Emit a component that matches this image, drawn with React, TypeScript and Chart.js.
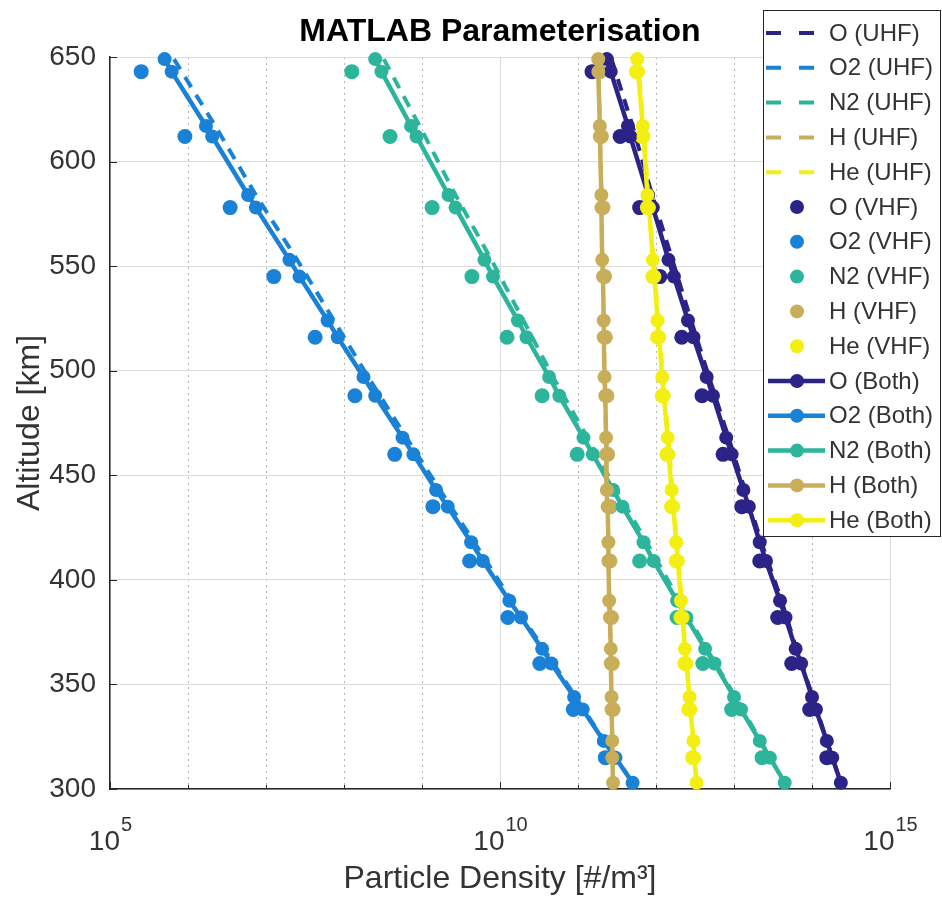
import React, { useEffect, useRef } from 'react';
import { Chart, registerables } from 'chart.js';

Chart.register(...registerables);

// ---------- data (densities stored as log10 of #/m^3) ----------
const UHF_ALT = [649, 617, 584, 553, 524, 497, 468, 443, 418, 390, 367, 344, 323, 303];
const VHF_ALT = [643, 612, 578, 545, 516, 488, 460, 435, 409, 382, 360, 338, 315];
const BOTH_ALT = [649, 643, 617, 612, 584, 578, 553, 545, 524, 516, 497, 488, 468, 460, 443, 435, 418, 409, 390, 382, 367, 360, 344, 338, 323, 315, 303];

const O_UHF = [11.43, 11.70, 11.95, 12.21, 12.45, 12.68, 12.93, 13.14, 13.35, 13.61, 13.80, 14.01, 14.19, 14.37];
const O2_UHF = [5.82, 6.35, 6.87, 7.40, 7.87, 8.31, 8.80, 9.23, 9.67, 10.15, 10.56, 10.97, 11.34, 11.70];
const N2_UHF = [8.51, 8.97, 9.43, 9.89, 10.30, 10.68, 11.12, 11.49, 11.88, 12.30, 12.65, 13.02, 13.34, 13.65];
const H_UHF = [11.26, 11.28, 11.30, 11.31, 11.33, 11.34, 11.36, 11.37, 11.39, 11.40, 11.42, 11.43, 11.44, 11.45];
const HE_UHF = [11.77, 11.84, 11.90, 11.97, 12.03, 12.09, 12.16, 12.21, 12.27, 12.33, 12.38, 12.43, 12.48, 12.52];

const O_VHF = [11.18, 11.54, 11.79, 12.05, 12.33, 12.59, 12.86, 13.10, 13.33, 13.56, 13.74, 13.97, 14.19];
const O2_VHF = [5.40, 5.96, 6.54, 7.10, 7.63, 8.14, 8.65, 9.14, 9.61, 10.10, 10.51, 10.94, 11.35];
const N2_VHF = [8.10, 8.59, 9.13, 9.64, 10.09, 10.54, 10.99, 11.41, 11.79, 12.27, 12.60, 12.97, 13.36];
const H_VHF = [11.28, 11.30, 11.32, 11.34, 11.35, 11.37, 11.38, 11.40, 11.41, 11.43, 11.44, 11.45, 11.46];
const HE_VHF = [11.75, 11.82, 11.89, 11.96, 12.02, 12.08, 12.14, 12.20, 12.26, 12.32, 12.37, 12.42, 12.47];

const O_BOTH = [11.37, 11.42, 11.64, 11.67, 11.90, 11.96, 12.16, 12.23, 12.41, 12.48, 12.65, 12.73, 12.90, 12.97, 13.12, 13.19, 13.33, 13.41, 13.59, 13.66, 13.79, 13.86, 14.00, 14.05, 14.19, 14.26, 14.37];
const O2_BOTH = [5.70, 5.79, 6.23, 6.31, 6.77, 6.87, 7.30, 7.43, 7.79, 7.92, 8.25, 8.40, 8.75, 8.89, 9.18, 9.33, 9.63, 9.78, 10.12, 10.27, 10.54, 10.66, 10.95, 11.06, 11.33, 11.48, 11.70];
const N2_BOTH = [8.40, 8.48, 8.86, 8.93, 9.34, 9.43, 9.80, 9.91, 10.23, 10.34, 10.63, 10.76, 11.07, 11.19, 11.45, 11.57, 11.84, 11.97, 12.27, 12.39, 12.63, 12.75, 13.00, 13.09, 13.33, 13.46, 13.65];
const H_BOTH = [11.26, 11.26, 11.28, 11.28, 11.30, 11.30, 11.31, 11.32, 11.33, 11.33, 11.34, 11.35, 11.36, 11.36, 11.37, 11.38, 11.39, 11.39, 11.40, 11.41, 11.42, 11.42, 11.43, 11.43, 11.44, 11.44, 11.45];
const HE_BOTH = [11.76, 11.77, 11.83, 11.84, 11.89, 11.91, 11.96, 11.98, 12.02, 12.04, 12.08, 12.10, 12.15, 12.16, 12.20, 12.22, 12.26, 12.28, 12.32, 12.34, 12.37, 12.39, 12.43, 12.44, 12.48, 12.49, 12.52];

const SPECIES = ['O', 'O2', 'N2', 'H', 'He'];
const COLORS = ['#2b2388', '#1a82d6', '#2db59c', '#c9ae5a', '#f4ef12'];

const X_TICK_EXP = [5, 6, 7, 8, 9, 10, 11, 12, 13, 14, 15];
const X_LABEL_BASE = '10';
const X_LABEL_EXP = [5, 10, 15];
const Y_TICKS = [300, 350, 400, 450, 500, 550, 600, 650];

const TITLE = 'MATLAB Parameterisation';
const X_TITLE = 'Particle Density [#/m\u00B3]';
const Y_TITLE = 'Altitude [km]';

const FONT = '"Liberation Sans", Arial, Helvetica, sans-serif';
const TEXT = '#262626';
const LABEL = '#333333';

const toPoints = (alts: number[], logs: number[]) =>
  alts.map((a, i) => ({ x: Math.pow(10, logs[i]), y: a }));

const inwardTicks = {
  id: 'inwardTicks',
  beforeDatasetsDraw(chart: any) {
    const { ctx, chartArea: a, scales } = chart;
    const x = scales.x;
    const y = scales.y;
    ctx.save();
    ctx.strokeStyle = TEXT;
    ctx.lineWidth = 1;
    ctx.beginPath();
    for (const t of Y_TICKS) {
      const py = Math.round(y.getPixelForValue(t)) + 0.5;
      ctx.moveTo(a.left, py);
      ctx.lineTo(a.left + 7, py);
    }
    for (const e of X_TICK_EXP) {
      const px = Math.round(x.getPixelForValue(Math.pow(10, e))) + 0.5;
      ctx.moveTo(px, a.bottom);
      ctx.lineTo(px, a.bottom - (e % 5 === 0 ? 7 : 4));
    }
    ctx.stroke();
    ctx.restore();
  },
};

// power-of-ten tick labels with a raised exponent, placed by the x scale
const powerLabels = {
  id: 'powerLabels',
  afterDraw(chart: any) {
    const { ctx, scales } = chart;
    const x = scales.x;
    ctx.save();
    ctx.fillStyle = LABEL;
    ctx.textBaseline = 'alphabetic';
    ctx.textAlign = 'left';
    for (const e of X_LABEL_EXP) {
      const px = x.getPixelForValue(Math.pow(10, e));
      ctx.font = `28px ${FONT}`;
      const wb = ctx.measureText(X_LABEL_BASE).width;
      ctx.font = `20px ${FONT}`;
      const we = ctx.measureText(String(e)).width;
      const x0 = px - (wb + we) / 2;
      ctx.font = `28px ${FONT}`;
      ctx.fillText(X_LABEL_BASE, x0, 850);
      ctx.font = `20px ${FONT}`;
      ctx.fillText(String(e), x0 + wb + 1, 831);
    }
    ctx.restore();
  },
};

const matlabLegend = {
  id: 'matlabLegend',
  afterDraw(chart: any) {
    const { ctx } = chart;
    const left = 763, top = 10, right = 941, bottom = 537;
    const rowY0 = 33, rowH = 34.8;
    ctx.save();
    ctx.fillStyle = '#ffffff';
    ctx.fillRect(left, top, right - left, bottom - top);
    ctx.strokeStyle = TEXT;
    ctx.lineWidth = 1;
    ctx.strokeRect(left + 0.5, top + 0.5, right - left - 1, bottom - top - 1);
    chart.data.datasets.forEach((ds: any, i: number) => {
      const cy = rowY0 + i * rowH;
      const color = ds.borderColor;
      const group = Math.floor(i / 5);
      if (group === 0) {
        ctx.strokeStyle = color;
        ctx.lineWidth = 4;
        ctx.setLineDash([15, 18]);
        ctx.beginPath();
        ctx.moveTo(766, cy);
        ctx.lineTo(814, cy);
        ctx.stroke();
        ctx.setLineDash([]);
      } else if (group === 1) {
        ctx.fillStyle = color;
        ctx.beginPath();
        ctx.arc(797, cy, 7, 0, Math.PI * 2);
        ctx.fill();
      } else {
        ctx.strokeStyle = color;
        ctx.lineWidth = 4.5;
        ctx.beginPath();
        ctx.moveTo(768, cy);
        ctx.lineTo(825, cy);
        ctx.stroke();
        ctx.fillStyle = color;
        ctx.beginPath();
        ctx.arc(797, cy, 7, 0, Math.PI * 2);
        ctx.fill();
      }
      ctx.fillStyle = LABEL;
      ctx.font = `24px ${FONT}`;
      ctx.textBaseline = 'middle';
      ctx.textAlign = 'left';
      ctx.fillText(ds.label, 829, cy + 1);
    });
    ctx.restore();
  },
};

export default function App() {
  const ref = useRef<HTMLCanvasElement>(null);

  useEffect(() => {
    document.body.style.margin = '0';
    const canvas = ref.current;
    if (!canvas) return;

    const uhf = [O_UHF, O2_UHF, N2_UHF, H_UHF, HE_UHF];
    const vhf = [O_VHF, O2_VHF, N2_VHF, H_VHF, HE_VHF];
    const both = [O_BOTH, O2_BOTH, N2_BOTH, H_BOTH, HE_BOTH];

    const datasets: any[] = [];
    SPECIES.forEach((sp, i) => {
      datasets.push({
        label: `${sp} (UHF)`,
        data: toPoints(UHF_ALT, uhf[i]),
        showLine: true,
        borderColor: COLORS[i],
        backgroundColor: COLORS[i],
        borderWidth: 4,
        borderDash: [12, 9],
        pointRadius: 0,
        pointHoverRadius: 0,
        clip: 10,
      });
    });
    SPECIES.forEach((sp, i) => {
      datasets.push({
        label: `${sp} (VHF)`,
        data: toPoints(VHF_ALT, vhf[i]),
        showLine: false,
        borderColor: COLORS[i],
        backgroundColor: COLORS[i],
        pointBackgroundColor: COLORS[i],
        pointBorderColor: COLORS[i],
        pointBorderWidth: 0,
        pointRadius: 7.5,
        clip: 10,
      });
    });
    SPECIES.forEach((sp, i) => {
      datasets.push({
        label: `${sp} (Both)`,
        data: toPoints(BOTH_ALT, both[i]),
        showLine: true,
        borderColor: COLORS[i],
        backgroundColor: COLORS[i],
        pointBackgroundColor: COLORS[i],
        pointBorderColor: COLORS[i],
        pointBorderWidth: 0,
        borderWidth: 4.5,
        pointRadius: 7,
        clip: 10,
      });
    });
    datasets.forEach((d, idx) => {
      d.order = 100 - idx;
    });

    const isMinor = (c: any) =>
      c && c.type === 'tick' && c.tick && Math.round(Math.log10(c.tick.value)) % 5 !== 0;

    const chart = new Chart(canvas, {
      type: 'scatter',
      data: { datasets },
      options: {
        responsive: false,
        animation: false,
        events: [],
        layout: { padding: { left: 0, right: 52, top: 0, bottom: 0 } },
        plugins: {
          legend: { display: false },
          tooltip: { enabled: false },
          title: {
            display: true,
            text: TITLE,
            fullSize: false,
            color: '#000000',
            font: { family: FONT, size: 32, weight: 'bold' },
            padding: { top: 12.8, bottom: 5.8 },
          },
        },
        scales: {
          x: {
            type: 'logarithmic',
            min: 1e5,
            max: 1e15,
            afterBuildTicks: (scale: any) => {
              scale.ticks = X_TICK_EXP.map((e) => ({ value: Math.pow(10, e) }));
            },
            afterFit: (scale: any) => {
              scale.height = 111;
            },
            ticks: { display: false, autoSkip: false, maxRotation: 0 },
            grid: {
              drawTicks: false,
              color: (c: any) => (isMinor(c) ? '#b8b8b8' : '#dcdcdc'),
              lineWidth: 1,
            },
            border: {
              display: true,
              color: TEXT,
              width: 1.5,
              dash: (c: any) => (isMinor(c) ? [2, 4] : []),
            },
            title: {
              display: true,
              text: X_TITLE,
              color: LABEL,
              font: { family: FONT, size: 32 },
              padding: { top: 0, bottom: 1.8 },
            },
          },
          y: {
            type: 'linear',
            min: 300,
            max: 650,
            afterFit: (scale: any) => {
              scale.width = 110;
            },
            ticks: {
              stepSize: 50,
              padding: 14,
              color: LABEL,
              font: { family: FONT, size: 28 },
            },
            grid: {
              drawTicks: false,
              color: '#dcdcdc',
              lineWidth: 1,
            },
            border: { display: true, color: TEXT, width: 1.5 },
            title: {
              display: true,
              text: Y_TITLE,
              color: LABEL,
              font: { family: FONT, size: 32 },
              padding: { top: 11, bottom: 0 },
            },
          },
        },
      } as any,
      plugins: [inwardTicks, powerLabels, matlabLegend],
    });

    return () => chart.destroy();
  }, []);

  return (
    <div style={{ position: 'relative', width: 942, height: 900 }}>
      <canvas ref={ref} width={942} height={900} style={{ display: 'block', width: 942, height: 900 }} />
    </div>
  );
}
